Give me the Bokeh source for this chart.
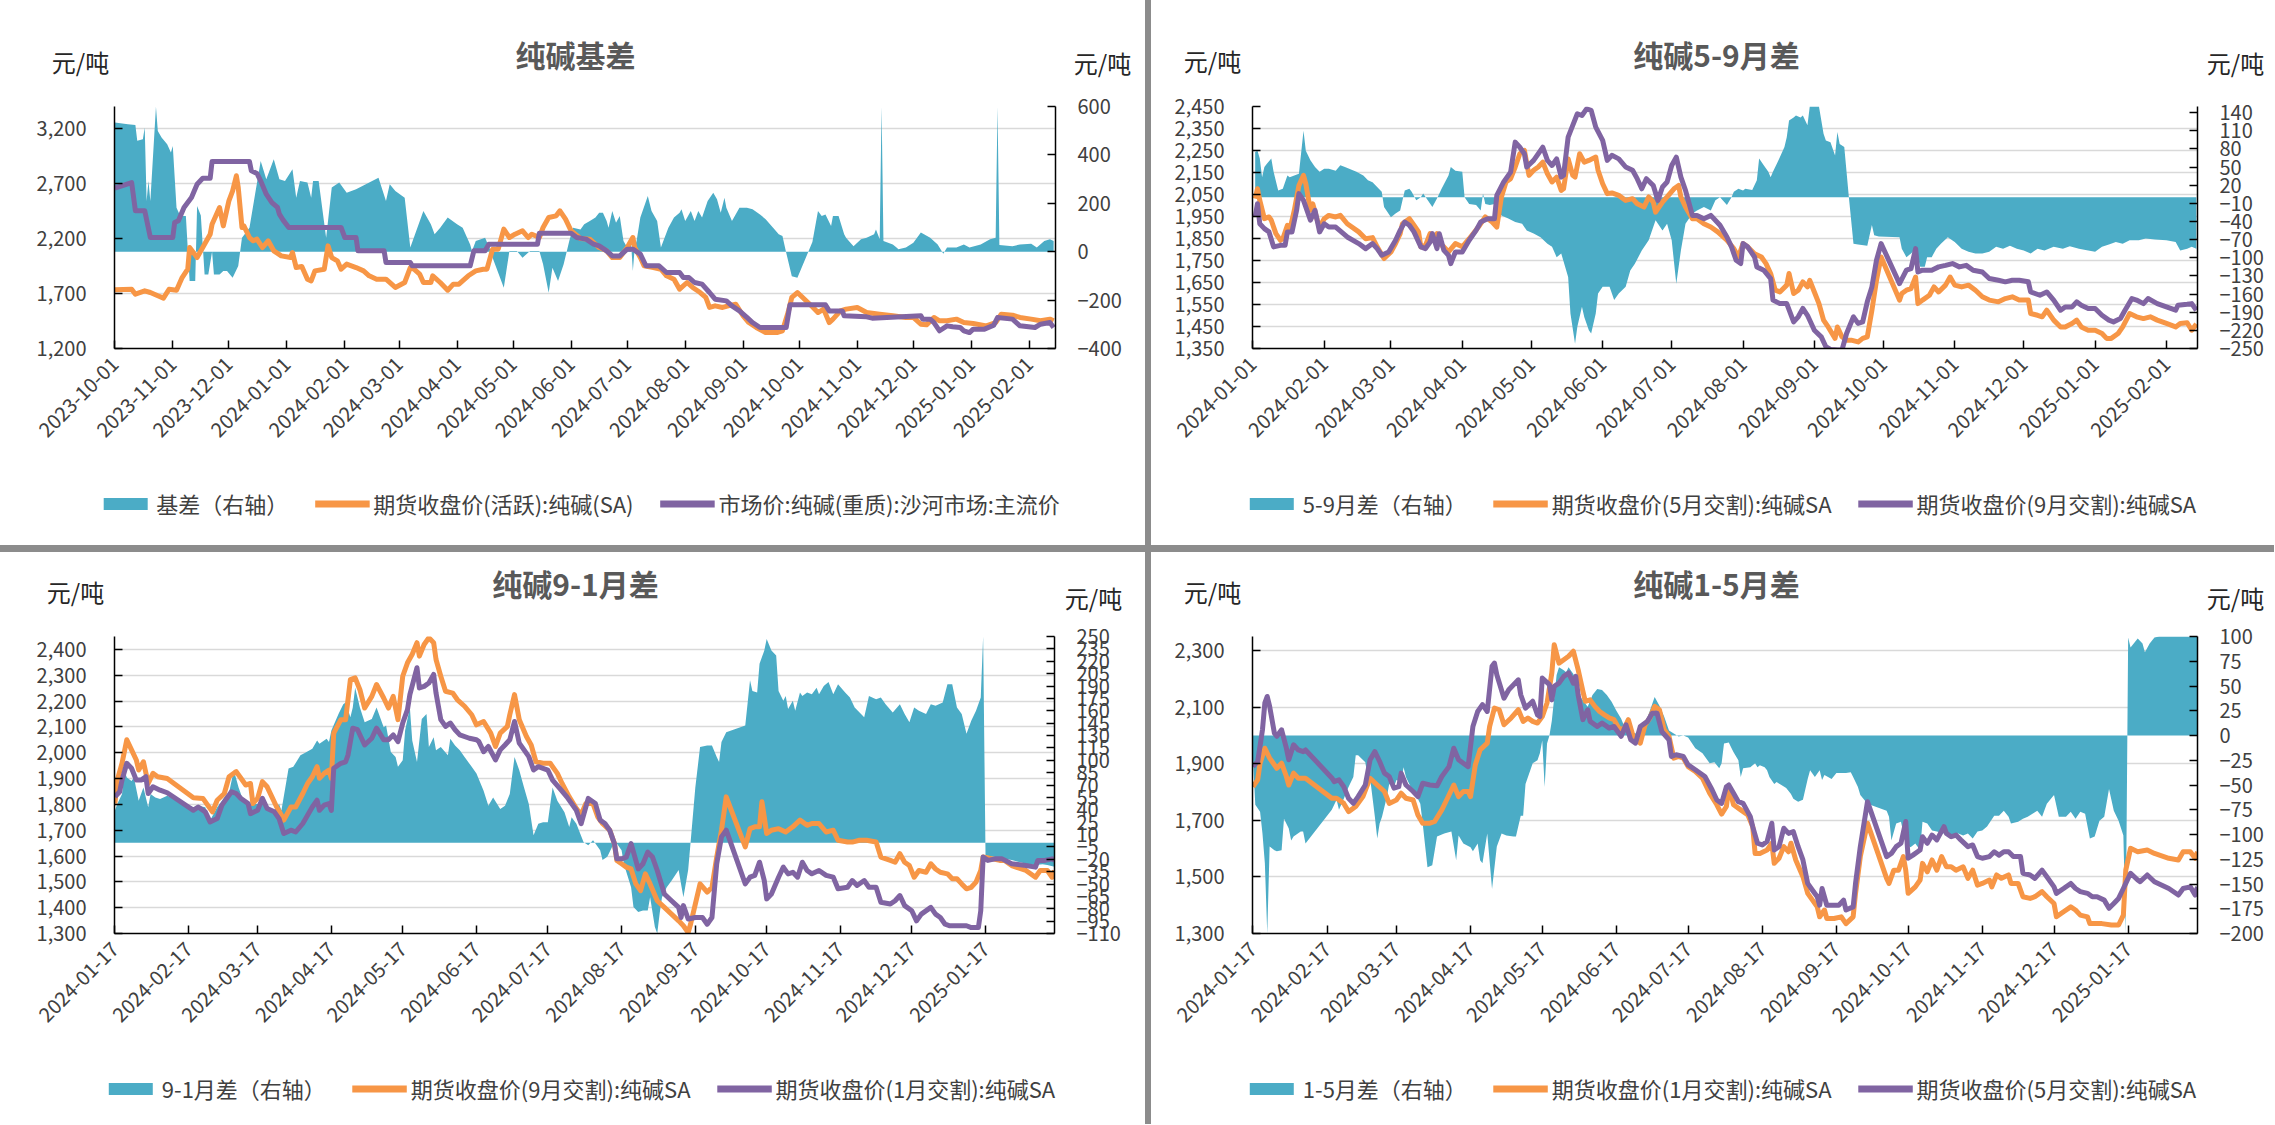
import math
import pandas as pd
from bokeh.plotting import figure
from bokeh.models import (Range1d, LinearAxis, FixedTicker, DatetimeTickFormatter,
                          NumeralTickFormatter, Label, Legend, LegendItem)
from bokeh.layouts import row, column
from bokeh.embed import file_html
from bokeh.resources import INLINE

FONT = "Noto Sans CJK SC"
TXT = "#404040"
TEAL, ORANGE, PURPLE = "#4BACC6", "#F79646", "#8064A2"

# ---------------- Panel 1: 纯碱基差 ----------------
TITLE1 = "纯碱基差"
NAMES1 = ["基差（右轴）", "期货收盘价(活跃):纯碱(SA)", "市场价:纯碱(重质):沙河市场:主流价"]
XT1 = ["2023-10-01", "2023-11-01", "2023-12-01", "2024-01-01", "2024-02-01", "2024-03-01",
       "2024-04-01", "2024-05-01", "2024-06-01", "2024-07-01", "2024-08-01", "2024-09-01",
       "2024-10-01", "2024-11-01", "2024-12-01", "2025-01-01", "2025-02-01"]
YL1 = [1200, 1700, 2200, 2700, 3200]
YR1 = [-400, -200, 0, 200, 400, 600]
BASIS1 = [
    ("2023-10-01", 534), ("2023-10-08", 527), ("2023-10-12", 524), ("2023-10-13", 458), ("2023-10-16", 465),
    ("2023-10-17", 513), ("2023-10-18", 210), ("2023-10-19", 292), ("2023-10-20", 210), ("2023-10-23", 599),
    ("2023-10-24", 499), ("2023-10-26", 472), ("2023-10-29", 444), ("2023-10-31", 410), ("2023-11-01", 437),
    ("2023-11-03", 182), ("2023-11-05", 148), ("2023-11-08", 148), ("2023-11-10", -121), ("2023-11-13", -121),
    ("2023-11-14", 189), ("2023-11-16", 150), ("2023-11-18", -94), ("2023-11-20", -94), ("2023-11-22", 0),
    ("2023-11-23", -94), ("2023-11-26", -94), ("2023-11-28", -80), ("2023-11-30", -80), ("2023-12-03", -108),
    ("2023-12-06", -59), ("2023-12-08", 58), ("2023-12-12", 99), ("2023-12-15", 237), ("2023-12-18", 375),
    ("2023-12-21", 299), ("2023-12-25", 382), ("2023-12-28", 299), ("2023-12-31", 292), ("2024-01-04", 341),
    ("2024-01-06", 223), ("2024-01-08", 292), ("2024-01-12", 286), ("2024-01-14", 223), ("2024-01-15", 292),
    ("2024-01-18", 292), ("2024-01-22", 58), ("2024-01-25", 265), ("2024-01-29", 286), ("2024-02-02", 244),
    ("2024-02-07", 258), ("2024-02-19", 306), ("2024-02-23", 210), ("2024-02-25", 279), ("2024-02-28", 251),
    ("2024-03-04", 223), ("2024-03-07", 17), ("2024-03-14", 168), ("2024-03-18", 113), ("2024-03-20", 72),
    ("2024-03-23", 99), ("2024-03-27", 141), ("2024-04-01", 113), ("2024-04-04", 99), ("2024-04-08", 30),
    ("2024-04-09", 3), ("2024-04-11", 44), ("2024-04-16", 58), ("2024-04-19", 3), ("2024-04-20", -25),
    ("2024-04-26", -149), ("2024-04-29", 3), ("2024-05-03", 3), ("2024-05-06", -25), ("2024-05-10", 3),
    ("2024-05-15", 3), ("2024-05-17", -52), ("2024-05-20", -170), ("2024-05-22", -66), ("2024-05-25", -121),
    ("2024-05-28", -52), ("2024-05-31", 44), ("2024-06-02", 99), ("2024-06-06", 92), ("2024-06-08", 113),
    ("2024-06-11", 127), ("2024-06-14", 141), ("2024-06-16", 161), ("2024-06-18", 161), ("2024-06-20", 127),
    ("2024-06-21", 99), ("2024-06-23", 168), ("2024-06-25", 120), ("2024-06-27", 148), ("2024-06-29", 44),
    ("2024-07-01", 17), ("2024-07-03", 44), ("2024-07-04", -80), ("2024-07-05", 17), ("2024-07-06", 44),
    ("2024-07-08", 141), ("2024-07-12", 230), ("2024-07-14", 168), ("2024-07-17", 127), ("2024-07-19", 17),
    ("2024-07-23", 99), ("2024-07-26", 141), ("2024-07-29", 161), ("2024-07-30", 175), ("2024-08-01", 127),
    ("2024-08-04", 168), ("2024-08-06", 127), ("2024-08-08", 168), ("2024-08-10", 141), ("2024-08-13", 210),
    ("2024-08-16", 244), ("2024-08-18", 217), ("2024-08-20", 161), ("2024-08-22", 223), ("2024-08-23", 182),
    ("2024-08-26", 127), ("2024-08-30", 182), ("2024-09-03", 182), ("2024-09-06", 175), ("2024-09-10", 154),
    ("2024-09-13", 134), ("2024-09-17", 99), ("2024-09-20", 72), ("2024-09-22", 65), ("2024-09-24", -4),
    ("2024-09-27", -101), ("2024-09-30", -108), ("2024-10-08", 40), ("2024-10-11", 168), ("2024-10-13", 148),
    ("2024-10-15", 154), ("2024-10-18", 106), ("2024-10-19", 148), ("2024-10-22", 148), ("2024-10-25", 72),
    ("2024-10-26", 58), ("2024-10-30", 23), ("2024-11-03", 51), ("2024-11-06", 58), ("2024-11-10", 72),
    ("2024-11-11", 92), ("2024-11-13", 51), ("2024-11-14", 599), ("2024-11-15", 44), ("2024-11-20", 30),
    ("2024-11-22", 17), ("2024-11-23", 10), ("2024-11-27", 17), ("2024-12-01", 37), ("2024-12-05", 79),
    ("2024-12-10", 58), ("2024-12-14", 30), ("2024-12-17", -8), ("2024-12-19", 17), ("2024-12-24", 17),
    ("2024-12-28", 30), ("2024-12-31", 17), ("2025-01-06", 30), ("2025-01-11", 51), ("2025-01-14", 58),
    ("2025-01-15", 599), ("2025-01-16", 28), ("2025-01-23", 23), ("2025-01-27", 30), ("2025-02-02", 33),
    ("2025-02-05", 17), ("2025-02-09", 44), ("2025-02-12", 51), ("2025-02-14", 44)]
FUT_SA = [
    ("2023-10-01", 1733), ("2023-10-10", 1739), ("2023-10-12", 1694), ("2023-10-17", 1724), ("2023-10-20", 1709),
    ("2023-10-24", 1679), ("2023-10-27", 1658), ("2023-10-30", 1739), ("2023-11-03", 1730), ("2023-11-06", 1845),
    ("2023-11-09", 1921), ("2023-11-10", 2118), ("2023-11-14", 2027), ("2023-11-17", 2118), ("2023-11-21", 2239),
    ("2023-11-22", 2330), ("2023-11-26", 2482), ("2023-11-28", 2315), ("2023-12-01", 2542), ("2023-12-03", 2633),
    ("2023-12-05", 2770), ("2023-12-06", 2664), ("2023-12-08", 2300), ("2023-12-09", 2315), ("2023-12-12", 2209),
    ("2023-12-14", 2179), ("2023-12-16", 2194), ("2023-12-19", 2118), ("2023-12-22", 2179), ("2023-12-25", 2088),
    ("2023-12-29", 2042), ("2024-01-03", 2027), ("2024-01-04", 2073), ("2024-01-06", 1936), ("2024-01-09", 1945),
    ("2024-01-12", 1830), ("2024-01-14", 1815), ("2024-01-16", 1906), ("2024-01-21", 1921), ("2024-01-23", 2133),
    ("2024-01-25", 2027), ("2024-01-28", 1997), ("2024-01-30", 1921), ("2024-02-02", 1967), ("2024-02-07", 1936),
    ("2024-02-11", 1906), ("2024-02-14", 1861), ("2024-02-18", 1830), ("2024-02-23", 1830), ("2024-02-28", 1755),
    ("2024-03-04", 1800), ("2024-03-07", 1936), ("2024-03-09", 1921), ("2024-03-12", 1876), ("2024-03-14", 1800),
    ("2024-03-18", 1800), ("2024-03-19", 1861), ("2024-03-23", 1800), ("2024-03-27", 1730), ("2024-03-30", 1785),
    ("2024-04-02", 1785), ("2024-04-07", 1861), ("2024-04-11", 1906), ("2024-04-15", 1921), ("2024-04-17", 1921),
    ("2024-04-20", 2103), ("2024-04-23", 2103), ("2024-04-26", 2285), ("2024-04-29", 2209), ("2024-05-02", 2239),
    ("2024-05-06", 2270), ("2024-05-09", 2209), ("2024-05-11", 2239), ("2024-05-15", 2209), ("2024-05-17", 2300),
    ("2024-05-20", 2391), ("2024-05-24", 2406), ("2024-05-26", 2452), ("2024-05-29", 2376), ("2024-06-01", 2270),
    ("2024-06-06", 2200), ("2024-06-11", 2194), ("2024-06-16", 2118), ("2024-06-20", 2088), ("2024-06-23", 2027),
    ("2024-06-27", 2027), ("2024-07-01", 2118), ("2024-07-04", 2209), ("2024-07-05", 2118), ("2024-07-08", 2027),
    ("2024-07-10", 1952), ("2024-07-15", 1936), ("2024-07-19", 1921), ("2024-07-22", 1861), ("2024-07-26", 1830),
    ("2024-07-29", 1739), ("2024-08-02", 1800), ("2024-08-05", 1755), ("2024-08-09", 1709), ("2024-08-12", 1664),
    ("2024-08-14", 1573), ("2024-08-17", 1588), ("2024-08-21", 1573), ("2024-08-24", 1588), ("2024-08-28", 1603),
    ("2024-09-01", 1497), ("2024-09-04", 1436), ("2024-09-08", 1391), ("2024-09-13", 1345), ("2024-09-19", 1345),
    ("2024-09-22", 1361), ("2024-09-25", 1527), ("2024-09-27", 1664), ("2024-09-30", 1709), ("2024-10-08", 1580),
    ("2024-10-11", 1527), ("2024-10-14", 1558), ("2024-10-17", 1436), ("2024-10-19", 1467), ("2024-10-23", 1542),
    ("2024-10-26", 1558), ("2024-11-01", 1573), ("2024-11-06", 1527), ("2024-11-13", 1512), ("2024-11-20", 1497),
    ("2024-11-27", 1482), ("2024-12-01", 1482), ("2024-12-05", 1421), ("2024-12-08", 1415), ("2024-12-12", 1482),
    ("2024-12-15", 1452), ("2024-12-19", 1452), ("2024-12-24", 1467), ("2024-12-28", 1436), ("2025-01-02", 1427),
    ("2025-01-09", 1406), ("2025-01-14", 1436), ("2025-01-17", 1512), ("2025-01-23", 1503), ("2025-01-27", 1482),
    ("2025-02-02", 1467), ("2025-02-07", 1452), ("2025-02-12", 1467), ("2025-02-14", 1452)]
MARKET = [
    ("2023-10-01", 2658), ("2023-10-10", 2709), ("2023-10-12", 2452), ("2023-10-17", 2452), ("2023-10-20", 2209),
    ("2023-11-01", 2209), ("2023-11-02", 2345), ("2023-11-04", 2361), ("2023-11-07", 2482), ("2023-11-11", 2573),
    ("2023-11-14", 2694), ("2023-11-17", 2748), ("2023-11-21", 2748), ("2023-11-22", 2900), ("2023-12-12", 2900),
    ("2023-12-13", 2815), ("2023-12-16", 2791), ("2023-12-18", 2724), ("2023-12-21", 2603), ("2023-12-24", 2527),
    ("2023-12-27", 2482), ("2023-12-28", 2421), ("2023-12-30", 2367), ("2024-01-02", 2300), ("2024-01-30", 2300),
    ("2024-02-01", 2209), ("2024-02-07", 2209), ("2024-02-08", 2088), ("2024-02-22", 2088), ("2024-02-23", 1982),
    ("2024-03-07", 1982), ("2024-03-08", 1952), ("2024-04-08", 1952), ("2024-04-10", 2088), ("2024-04-16", 2088),
    ("2024-04-18", 2148), ("2024-05-14", 2148), ("2024-05-15", 2248), ("2024-06-01", 2248), ("2024-06-04", 2209),
    ("2024-06-09", 2194), ("2024-06-13", 2148), ("2024-06-16", 2133), ("2024-06-20", 2088), ("2024-06-23", 2042),
    ("2024-06-27", 2042), ("2024-07-01", 2103), ("2024-07-04", 2103), ("2024-07-08", 2058), ("2024-07-11", 1952),
    ("2024-07-18", 1952), ("2024-07-22", 1891), ("2024-07-29", 1891), ("2024-07-31", 1845), ("2024-08-03", 1845),
    ("2024-08-06", 1800), ("2024-08-10", 1785), ("2024-08-14", 1709), ("2024-08-17", 1648), ("2024-08-23", 1633),
    ("2024-08-26", 1588), ("2024-08-30", 1542), ("2024-09-03", 1482), ("2024-09-06", 1436), ("2024-09-10", 1391),
    ("2024-09-24", 1391), ("2024-09-26", 1597), ("2024-10-15", 1597), ("2024-10-17", 1542), ("2024-10-24", 1542),
    ("2024-10-25", 1497), ("2024-11-06", 1488), ("2024-11-09", 1476), ("2024-12-05", 1497), ("2024-12-06", 1467),
    ("2024-12-10", 1467), ("2024-12-12", 1436), ("2024-12-15", 1361), ("2024-12-19", 1406), ("2024-12-22", 1397),
    ("2024-12-26", 1391), ("2024-12-28", 1361), ("2024-12-31", 1345), ("2025-01-02", 1376), ("2025-01-08", 1376),
    ("2025-01-13", 1412), ("2025-01-15", 1482), ("2025-01-23", 1467), ("2025-01-27", 1406), ("2025-02-04", 1391),
    ("2025-02-07", 1421), ("2025-02-12", 1436), ("2025-02-14", 1391)]

# ---------------- Panel 2: 纯碱5-9月差 ----------------
TITLE2 = "纯碱5-9月差"
NAMES2 = ["5-9月差（右轴）", "期货收盘价(5月交割):纯碱SA", "期货收盘价(9月交割):纯碱SA"]
XT2 = ["2024-01-01", "2024-02-01", "2024-03-01", "2024-04-01", "2024-05-01", "2024-06-01", "2024-07-01",
       "2024-08-01", "2024-09-01", "2024-10-01", "2024-11-01", "2024-12-01", "2025-01-01", "2025-02-01"]
YL2 = [1350, 1450, 1550, 1650, 1750, 1850, 1950, 2050, 2150, 2250, 2350, 2450]
YR2 = [-250, -220, -190, -160, -130, -100, -70, -40, -10, 20, 50, 80, 110, 140]
SPR59 = [
    ("2024-01-02", 75), ("2024-01-03", 77), ("2024-01-04", 64), ("2024-01-05", 33), ("2024-01-06", 50),
    ("2024-01-07", 55), ("2024-01-09", 64), ("2024-01-10", 42), ("2024-01-12", 11), ("2024-01-14", 14),
    ("2024-01-16", 36), ("2024-01-17", 33), ("2024-01-19", 36), ("2024-01-21", 39), ("2024-01-23", 110),
    ("2024-01-24", 77), ("2024-01-26", 61), ("2024-01-28", 50), ("2024-01-30", 42), ("2024-02-01", 47),
    ("2024-02-03", 47), ("2024-02-06", 44), ("2024-02-08", 53), ("2024-02-10", 50), ("2024-02-15", 42),
    ("2024-02-18", 36), ("2024-02-20", 28), ("2024-02-22", 25), ("2024-02-24", 17), ("2024-02-26", 9),
    ("2024-02-27", -16), ("2024-03-01", -33), ("2024-03-03", -27), ("2024-03-05", -22), ("2024-03-07", 11),
    ("2024-03-09", 14), ("2024-03-10", 9), ("2024-03-12", -5), ("2024-03-14", 0), ("2024-03-15", 6),
    ("2024-03-17", -5), ("2024-03-19", -16), ("2024-03-21", -2), ("2024-03-23", 14), ("2024-03-26", 36),
    ("2024-03-27", 50), ("2024-03-29", 44), ("2024-04-01", 42), ("2024-04-02", 0), ("2024-04-04", -11),
    ("2024-04-07", -13), ("2024-04-09", -22), ("2024-04-10", 6), ("2024-04-11", -11), ("2024-04-13", -13),
    ("2024-04-15", -11), ("2024-04-18", -30), ("2024-04-21", -35), ("2024-04-24", -41), ("2024-04-27", -44),
    ("2024-04-29", -55), ("2024-05-02", -60), ("2024-05-05", -66), ("2024-05-08", -77), ("2024-05-10", -82),
    ("2024-05-12", -99), ("2024-05-14", -93), ("2024-05-17", -132), ("2024-05-18", -192), ("2024-05-20", -242),
    ("2024-05-21", -214), ("2024-05-23", -181), ("2024-05-24", -198), ("2024-05-26", -220), ("2024-05-27", -225),
    ("2024-05-29", -192), ("2024-05-30", -159), ("2024-06-01", -148), ("2024-06-04", -148), ("2024-06-06", -170),
    ("2024-06-08", -159), ("2024-06-11", -148), ("2024-06-13", -121), ("2024-06-15", -110), ("2024-06-18", -88),
    ("2024-06-21", -71), ("2024-06-24", -38), ("2024-06-27", -55), ("2024-06-29", -44), ("2024-07-01", -71),
    ("2024-07-03", -143), ("2024-07-05", -88), ("2024-07-07", -44), ("2024-07-10", -27), ("2024-07-12", -22),
    ("2024-07-15", -16), ("2024-07-18", -22), ("2024-07-20", -5), ("2024-07-22", 0), ("2024-07-25", -13),
    ("2024-07-27", 0), ("2024-07-28", 9), ("2024-07-30", 14), ("2024-08-01", 11), ("2024-08-02", 14),
    ("2024-08-05", 12), ("2024-08-07", 28), ("2024-08-08", 64), ("2024-08-10", 53), ("2024-08-12", 42),
    ("2024-08-13", 33), ("2024-08-14", 42), ("2024-08-16", 58), ("2024-08-17", 66), ("2024-08-19", 83),
    ("2024-08-20", 99), ("2024-08-21", 127), ("2024-08-23", 132), ("2024-08-24", 135), ("2024-08-26", 132),
    ("2024-08-27", 135), ("2024-08-29", 119), ("2024-08-30", 150), ("2024-09-03", 150), ("2024-09-05", 105),
    ("2024-09-06", 94), ("2024-09-08", 91), ("2024-09-10", 69), ("2024-09-11", 108), ("2024-09-12", 88),
    ("2024-09-14", 83), ("2024-09-16", 0), ("2024-09-18", -77), ("2024-09-20", -78), ("2024-09-24", -80),
    ("2024-09-26", -46), ("2024-09-27", -63), ("2024-09-29", -65), ("2024-10-08", -66), ("2024-10-09", -85),
    ("2024-10-11", -99), ("2024-10-13", -93), ("2024-10-15", -85), ("2024-10-17", -115), ("2024-10-19", -115),
    ("2024-10-20", -99), ("2024-10-22", -99), ("2024-10-24", -85), ("2024-10-26", -77), ("2024-10-29", -66),
    ("2024-11-01", -74), ("2024-11-04", -85), ("2024-11-07", -90), ("2024-11-10", -93), ("2024-11-13", -93),
    ("2024-11-16", -90), ("2024-11-19", -82), ("2024-11-22", -85), ("2024-11-25", -80), ("2024-11-28", -85),
    ("2024-12-01", -88), ("2024-12-04", -93), ("2024-12-07", -85), ("2024-12-10", -88), ("2024-12-14", -82),
    ("2024-12-18", -85), ("2024-12-21", -81), ("2024-12-25", -85), ("2024-12-29", -88), ("2025-01-01", -90),
    ("2025-01-04", -82), ("2025-01-07", -78), ("2025-01-10", -74), ("2025-01-13", -77), ("2025-01-16", -71),
    ("2025-01-20", -71), ("2025-01-23", -68), ("2025-01-27", -70), ("2025-02-01", -71), ("2025-02-05", -74),
    ("2025-02-07", -88), ("2025-02-10", -85), ("2025-02-12", -82), ("2025-02-14", -85)]
P2_MAY = [
    ("2024-01-02", 2031), ("2024-01-03", 2076), ("2024-01-04", 2023), ("2024-01-06", 1940), ("2024-01-08", 1948),
    ("2024-01-09", 1933), ("2024-01-11", 1872), ("2024-01-13", 1842), ("2024-01-14", 1849), ("2024-01-16", 1910),
    ("2024-01-17", 1887), ("2024-01-19", 1978), ("2024-01-21", 2091), ("2024-01-23", 2137), ("2024-01-24", 2099),
    ("2024-01-26", 1978), ("2024-01-27", 2008), ("2024-01-29", 1933), ("2024-01-30", 1902), ("2024-02-01", 1940),
    ("2024-02-03", 1955), ("2024-02-06", 1948), ("2024-02-08", 1955), ("2024-02-11", 1917), ("2024-02-16", 1880),
    ("2024-02-19", 1849), ("2024-02-22", 1854), ("2024-02-24", 1812), ("2024-02-27", 1759), ("2024-03-01", 1789),
    ("2024-03-03", 1827), ("2024-03-05", 1872), ("2024-03-06", 1917), ("2024-03-09", 1940), ("2024-03-11", 1910),
    ("2024-03-13", 1880), ("2024-03-14", 1812), ("2024-03-16", 1819), ("2024-03-18", 1872), ("2024-03-19", 1842),
    ("2024-03-21", 1872), ("2024-03-22", 1827), ("2024-03-24", 1812), ("2024-03-26", 1789), ("2024-03-29", 1827),
    ("2024-04-01", 1812), ("2024-04-04", 1849), ("2024-04-08", 1902), ("2024-04-11", 1948), ("2024-04-14", 1925),
    ("2024-04-16", 1902), ("2024-04-18", 2039), ("2024-04-20", 2107), ("2024-04-22", 2122), ("2024-04-24", 2175),
    ("2024-04-26", 2235), ("2024-04-28", 2250), ("2024-04-30", 2137), ("2024-05-02", 2160), ("2024-05-04", 2175),
    ("2024-05-06", 2197), ("2024-05-08", 2144), ("2024-05-10", 2107), ("2024-05-12", 2129), ("2024-05-14", 2069),
    ("2024-05-15", 2076), ("2024-05-17", 2212), ("2024-05-19", 2137), ("2024-05-20", 2129), ("2024-05-22", 2235),
    ("2024-05-24", 2197), ("2024-05-26", 2205), ("2024-05-29", 2220), ("2024-05-30", 2160), ("2024-06-01", 2099),
    ("2024-06-03", 2054), ("2024-06-05", 2057), ("2024-06-08", 2046), ("2024-06-11", 2023), ("2024-06-14", 2031),
    ("2024-06-16", 2008), ("2024-06-19", 1993), ("2024-06-21", 2039), ("2024-06-23", 2016), ("2024-06-24", 1970),
    ("2024-06-27", 2016), ("2024-06-29", 2039), ("2024-07-02", 2076), ("2024-07-04", 2091), ("2024-07-05", 2039),
    ("2024-07-07", 1993), ("2024-07-10", 1940), ("2024-07-12", 1940), ("2024-07-15", 1917), ("2024-07-18", 1902),
    ("2024-07-21", 1880), ("2024-07-25", 1842), ("2024-07-28", 1804), ("2024-07-30", 1766), ("2024-08-01", 1827),
    ("2024-08-03", 1812), ("2024-08-06", 1781), ("2024-08-09", 1766), ("2024-08-11", 1736), ("2024-08-13", 1691),
    ("2024-08-15", 1615), ("2024-08-17", 1607), ("2024-08-20", 1638), ("2024-08-21", 1691), ("2024-08-23", 1600),
    ("2024-08-25", 1615), ("2024-08-27", 1653), ("2024-08-29", 1630), ("2024-08-30", 1660), ("2024-09-01", 1607),
    ("2024-09-03", 1554), ("2024-09-05", 1479), ("2024-09-07", 1448), ("2024-09-10", 1396), ("2024-09-11", 1448),
    ("2024-09-13", 1403), ("2024-09-15", 1388), ("2024-09-17", 1388), ("2024-09-20", 1380), ("2024-09-22", 1396),
    ("2024-09-24", 1403), ("2024-09-26", 1524), ("2024-09-28", 1660), ("2024-09-30", 1766), ("2024-10-08", 1570),
    ("2024-10-09", 1600), ("2024-10-11", 1615), ("2024-10-13", 1622), ("2024-10-15", 1675), ("2024-10-16", 1554),
    ("2024-10-18", 1570), ("2024-10-21", 1592), ("2024-10-23", 1630), ("2024-10-25", 1607), ("2024-10-28", 1638),
    ("2024-10-30", 1675), ("2024-11-01", 1638), ("2024-11-04", 1630), ("2024-11-07", 1638), ("2024-11-10", 1615),
    ("2024-11-13", 1585), ("2024-11-16", 1570), ("2024-11-20", 1562), ("2024-11-23", 1577), ("2024-11-26", 1585),
    ("2024-11-29", 1570), ("2024-12-03", 1570), ("2024-12-04", 1509), ("2024-12-07", 1501), ("2024-12-09", 1494),
    ("2024-12-11", 1524), ("2024-12-14", 1479), ("2024-12-17", 1448), ("2024-12-19", 1448), ("2024-12-22", 1464),
    ("2024-12-24", 1479), ("2024-12-26", 1448), ("2024-12-29", 1433), ("2025-01-01", 1433), ("2025-01-04", 1418),
    ("2025-01-06", 1396), ("2025-01-08", 1396), ("2025-01-11", 1418), ("2025-01-13", 1448), ("2025-01-16", 1509),
    ("2025-01-19", 1494), ("2025-01-22", 1486), ("2025-01-25", 1494), ("2025-01-28", 1479), ("2025-02-01", 1464),
    ("2025-02-05", 1448), ("2025-02-07", 1464), ("2025-02-10", 1467), ("2025-02-12", 1433), ("2025-02-14", 1461)]
P2_SEP = [
    ("2024-01-02", 1948), ("2024-01-03", 2008), ("2024-01-04", 1917), ("2024-01-06", 1895), ("2024-01-08", 1880),
    ("2024-01-10", 1812), ("2024-01-13", 1819), ("2024-01-15", 1819), ("2024-01-16", 1880), ("2024-01-18", 1880),
    ("2024-01-20", 1978), ("2024-01-21", 2054), ("2024-01-23", 2023), ("2024-01-26", 1933), ("2024-01-28", 1978),
    ("2024-01-30", 1880), ("2024-02-01", 1917), ("2024-02-03", 1902), ("2024-02-06", 1902), ("2024-02-11", 1857),
    ("2024-02-16", 1827), ("2024-02-19", 1804), ("2024-02-22", 1827), ("2024-02-24", 1804), ("2024-02-26", 1774),
    ("2024-02-29", 1789), ("2024-03-03", 1842), ("2024-03-05", 1887), ("2024-03-07", 1925), ("2024-03-09", 1910),
    ("2024-03-11", 1880), ("2024-03-14", 1812), ("2024-03-16", 1804), ("2024-03-18", 1834), ("2024-03-19", 1872),
    ("2024-03-21", 1804), ("2024-03-22", 1872), ("2024-03-24", 1796), ("2024-03-26", 1774), ("2024-03-27", 1736),
    ("2024-03-29", 1789), ("2024-04-01", 1789), ("2024-04-04", 1842), ("2024-04-07", 1887), ("2024-04-09", 1925),
    ("2024-04-12", 1940), ("2024-04-15", 1940), ("2024-04-16", 2046), ("2024-04-19", 2107), ("2024-04-22", 2152),
    ("2024-04-24", 2288), ("2024-04-26", 2265), ("2024-04-28", 2235), ("2024-04-29", 2175), ("2024-05-02", 2205),
    ("2024-05-06", 2265), ("2024-05-08", 2205), ("2024-05-10", 2182), ("2024-05-12", 2212), ("2024-05-14", 2129),
    ("2024-05-15", 2137), ("2024-05-17", 2311), ("2024-05-19", 2364), ("2024-05-21", 2417), ("2024-05-23", 2409),
    ("2024-05-25", 2439), ("2024-05-27", 2432), ("2024-05-29", 2356), ("2024-06-01", 2296), ("2024-06-03", 2205),
    ("2024-06-05", 2228), ("2024-06-08", 2212), ("2024-06-11", 2175), ("2024-06-14", 2160), ("2024-06-16", 2122),
    ("2024-06-18", 2076), ("2024-06-20", 2122), ("2024-06-23", 2091), ("2024-06-25", 2023), ("2024-06-27", 2084),
    ("2024-06-29", 2107), ("2024-07-01", 2182), ("2024-07-03", 2220), ("2024-07-05", 2129), ("2024-07-07", 2069),
    ("2024-07-10", 1955), ("2024-07-12", 1955), ("2024-07-15", 1940), ("2024-07-18", 1955), ("2024-07-22", 1910),
    ("2024-07-25", 1857), ("2024-07-27", 1812), ("2024-07-29", 1751), ("2024-07-31", 1736), ("2024-08-01", 1827),
    ("2024-08-03", 1812), ("2024-08-06", 1766), ("2024-08-07", 1721), ("2024-08-10", 1706), ("2024-08-13", 1668),
    ("2024-08-14", 1570), ("2024-08-17", 1554), ("2024-08-20", 1554), ("2024-08-23", 1471), ("2024-08-25", 1494),
    ("2024-08-27", 1532), ("2024-08-29", 1501), ("2024-09-01", 1433), ("2024-09-04", 1403), ("2024-09-06", 1358),
    ("2024-09-08", 1346), ("2024-09-11", 1343), ("2024-09-13", 1343), ("2024-09-15", 1418), ("2024-09-18", 1494),
    ("2024-09-20", 1464), ("2024-09-22", 1471), ("2024-09-24", 1562), ("2024-09-26", 1630), ("2024-09-28", 1751),
    ("2024-09-30", 1827), ("2024-10-08", 1645), ("2024-10-11", 1706), ("2024-10-13", 1713), ("2024-10-15", 1804),
    ("2024-10-16", 1698), ("2024-10-18", 1706), ("2024-10-22", 1706), ("2024-10-25", 1721), ("2024-10-28", 1728),
    ("2024-10-31", 1736), ("2024-11-03", 1721), ("2024-11-06", 1728), ("2024-11-09", 1706), ("2024-11-13", 1698),
    ("2024-11-16", 1668), ("2024-11-20", 1660), ("2024-11-23", 1653), ("2024-11-26", 1660), ("2024-11-29", 1660),
    ("2024-12-03", 1653), ("2024-12-04", 1607), ("2024-12-08", 1592), ("2024-12-11", 1607), ("2024-12-14", 1570),
    ("2024-12-17", 1524), ("2024-12-19", 1539), ("2024-12-22", 1539), ("2024-12-24", 1562), ("2024-12-26", 1547),
    ("2024-12-29", 1532), ("2025-01-01", 1532), ("2025-01-04", 1501), ("2025-01-07", 1479), ("2025-01-09", 1471),
    ("2025-01-12", 1486), ("2025-01-14", 1524), ("2025-01-17", 1577), ("2025-01-19", 1570), ("2025-01-22", 1554),
    ("2025-01-24", 1577), ("2025-01-28", 1554), ("2025-02-01", 1539), ("2025-02-05", 1524), ("2025-02-06", 1547),
    ("2025-02-10", 1551), ("2025-02-12", 1554), ("2025-02-14", 1524)]

# ---------------- Panel 3: 纯碱9-1月差 ----------------
TITLE3 = "纯碱9-1月差"
NAMES3 = ["9-1月差（右轴）", "期货收盘价(9月交割):纯碱SA", "期货收盘价(1月交割):纯碱SA"]
XT34 = ["2024-01-17", "2024-02-17", "2024-03-17", "2024-04-17", "2024-05-17", "2024-06-17", "2024-07-17",
        "2024-08-17", "2024-09-17", "2024-10-17", "2024-11-17", "2024-12-17", "2025-01-17"]
YL3 = [1300, 1400, 1500, 1600, 1700, 1800, 1900, 2000, 2100, 2200, 2300, 2400]
YR3 = [-110, -95, -80, -65, -50, -35, -20, -5, 10, 25, 40, 55, 70, 85, 100, 115, 130, 145, 160, 175,
       190, 205, 220, 235, 250]
SPR91 = [
    ("2024-01-17", 39), ("2024-01-18", 47), ("2024-01-20", 59), ("2024-01-21", 88), ("2024-01-22", 79),
    ("2024-01-24", 75), ("2024-01-25", 79), ("2024-01-27", 51), ("2024-01-28", 59), ("2024-01-29", 67),
    ("2024-01-31", 43), ("2024-02-01", 59), ("2024-02-03", 55), ("2024-02-05", 53), ("2024-02-08", 57),
    ("2024-02-19", 43), ("2024-02-21", 45), ("2024-02-24", 43), ("2024-02-26", 27), ("2024-02-29", 43),
    ("2024-03-03", 55), ("2024-03-05", 61), ("2024-03-07", 88), ("2024-03-09", 67), ("2024-03-11", 51),
    ("2024-03-14", 47), ("2024-03-17", 47), ("2024-03-19", 55), ("2024-03-21", 39), ("2024-03-24", 39),
    ("2024-03-26", 47), ("2024-03-27", 39), ("2024-03-30", 90), ("2024-04-01", 92), ("2024-04-04", 106),
    ("2024-04-06", 109), ("2024-04-09", 114), ("2024-04-11", 124), ("2024-04-12", 120), ("2024-04-15", 126),
    ("2024-04-16", 122), ("2024-04-17", 136), ("2024-04-20", 156), ("2024-04-22", 168), ("2024-04-23", 170),
    ("2024-04-25", 152), ("2024-04-26", 164), ("2024-04-27", 188), ("2024-04-29", 164), ("2024-05-01", 146),
    ("2024-05-04", 150), ("2024-05-06", 164), ("2024-05-09", 140), ("2024-05-10", 142), ("2024-05-12", 110),
    ("2024-05-14", 104), ("2024-05-15", 92), ("2024-05-17", 100), ("2024-05-18", 136), ("2024-05-20", 164),
    ("2024-05-21", 124), ("2024-05-23", 98), ("2024-05-25", 150), ("2024-05-27", 156), ("2024-05-28", 116),
    ("2024-05-30", 128), ("2024-05-31", 112), ("2024-06-02", 116), ("2024-06-05", 106), ("2024-06-06", 126),
    ("2024-06-08", 118), ("2024-06-10", 112), ("2024-06-12", 104), ("2024-06-15", 92), ("2024-06-17", 84),
    ("2024-06-20", 63), ("2024-06-22", 45), ("2024-06-24", 55), ("2024-06-27", 41), ("2024-06-29", 45),
    ("2024-07-01", 59), ("2024-07-03", 104), ("2024-07-05", 88), ("2024-07-07", 67), ("2024-07-09", 47),
    ("2024-07-11", 9), ("2024-07-13", 23), ("2024-07-15", 25), ("2024-07-17", 25), ("2024-07-19", 67),
    ("2024-07-21", 51), ("2024-07-24", 37), ("2024-07-26", 19), ("2024-07-27", 31), ("2024-07-29", 23),
    ("2024-08-01", 1), ("2024-08-03", -3), ("2024-08-05", 3), ("2024-08-06", -1), ("2024-08-08", -9),
    ("2024-08-09", -21), ("2024-08-11", -17), ("2024-08-13", -5), ("2024-08-15", -1), ("2024-08-17", -9),
    ("2024-08-18", -26), ("2024-08-21", -54), ("2024-08-22", -78), ("2024-08-24", -84), ("2024-08-26", -82),
    ("2024-08-28", -82), ("2024-08-29", -66), ("2024-08-31", -102), ("2024-09-01", -110), ("2024-09-02", -86),
    ("2024-09-03", -66), ("2024-09-05", -54), ("2024-09-07", -46), ("2024-09-10", -33), ("2024-09-11", -50),
    ("2024-09-12", -66), ("2024-09-14", -33), ("2024-09-15", 0), ("2024-09-17", 67), ("2024-09-19", 116),
    ("2024-09-22", 118), ("2024-09-24", 118), ("2024-09-26", 104), ("2024-09-27", 98), ("2024-09-28", 122),
    ("2024-09-30", 134), ("2024-10-08", 142), ("2024-10-10", 197), ("2024-10-11", 184), ("2024-10-13", 182),
    ("2024-10-14", 217), ("2024-10-16", 233), ("2024-10-17", 247), ("2024-10-19", 233), ("2024-10-21", 227),
    ("2024-10-22", 184), ("2024-10-24", 172), ("2024-10-25", 178), ("2024-10-26", 162), ("2024-10-28", 172),
    ("2024-10-29", 160), ("2024-10-31", 182), ("2024-11-01", 178), ("2024-11-03", 182), ("2024-11-05", 180),
    ("2024-11-07", 188), ("2024-11-08", 180), ("2024-11-10", 190), ("2024-11-12", 195), ("2024-11-14", 180),
    ("2024-11-16", 192), ("2024-11-19", 182), ("2024-11-21", 176), ("2024-11-23", 164), ("2024-11-27", 152),
    ("2024-11-29", 178), ("2024-12-02", 174), ("2024-12-04", 176), ("2024-12-06", 168), ("2024-12-09", 158),
    ("2024-12-12", 168), ("2024-12-14", 156), ("2024-12-16", 146), ("2024-12-18", 164), ("2024-12-20", 160),
    ("2024-12-23", 156), ("2024-12-25", 168), ("2024-12-27", 166), ("2024-12-30", 170), ("2025-01-01", 192),
    ("2025-01-03", 192), ("2025-01-05", 164), ("2025-01-07", 156), ("2025-01-09", 132), ("2025-01-11", 148),
    ("2025-01-13", 160), ("2025-01-15", 176), ("2025-01-16", 250), ("2025-01-17", -15), ("2025-01-20", -17),
    ("2025-01-28", -21), ("2025-02-04", -26), ("2025-02-07", -27), ("2025-02-10", -26), ("2025-02-12", -27),
    ("2025-02-15", -29)]
P3_SEP = [
    ("2024-01-17", 1803), ("2024-01-18", 1894), ("2024-01-20", 1959), ("2024-01-22", 2050), ("2024-01-24", 2011),
    ("2024-01-26", 1972), ("2024-01-27", 1933), ("2024-01-29", 1965), ("2024-01-31", 1881), ("2024-02-02", 1920),
    ("2024-02-04", 1907), ("2024-02-08", 1900), ("2024-02-19", 1826), ("2024-02-23", 1823), ("2024-02-25", 1797),
    ("2024-02-27", 1771), ("2024-02-29", 1816), ("2024-03-03", 1842), ("2024-03-05", 1907), ("2024-03-08", 1927),
    ("2024-03-10", 1901), ("2024-03-12", 1875), ("2024-03-14", 1881), ("2024-03-15", 1803), ("2024-03-17", 1823),
    ("2024-03-19", 1888), ("2024-03-21", 1868), ("2024-03-23", 1829), ("2024-03-25", 1790), ("2024-03-27", 1758),
    ("2024-03-28", 1739), ("2024-03-31", 1790), ("2024-04-02", 1790), ("2024-04-05", 1842), ("2024-04-07", 1881),
    ("2024-04-09", 1907), ("2024-04-11", 1946), ("2024-04-12", 1901), ("2024-04-14", 1920), ("2024-04-16", 1933),
    ("2024-04-17", 1901), ("2024-04-18", 2076), ("2024-04-21", 2128), ("2024-04-23", 2128), ("2024-04-25", 2283),
    ("2024-04-27", 2290), ("2024-04-29", 2244), ("2024-05-01", 2173), ("2024-05-04", 2218), ("2024-05-06", 2264),
    ("2024-05-09", 2212), ("2024-05-11", 2173), ("2024-05-13", 2218), ("2024-05-15", 2128), ("2024-05-17", 2296),
    ("2024-05-19", 2348), ("2024-05-21", 2381), ("2024-05-23", 2426), ("2024-05-24", 2374), ("2024-05-26", 2419),
    ("2024-05-28", 2445), ("2024-05-30", 2426), ("2024-05-31", 2361), ("2024-06-02", 2296), ("2024-06-04", 2238),
    ("2024-06-07", 2231), ("2024-06-09", 2205), ("2024-06-12", 2180), ("2024-06-15", 2147), ("2024-06-17", 2108),
    ("2024-06-20", 2121), ("2024-06-23", 2076), ("2024-06-25", 2024), ("2024-06-27", 2076), ("2024-06-30", 2102),
    ("2024-07-01", 2147), ("2024-07-03", 2225), ("2024-07-05", 2128), ("2024-07-08", 2063), ("2024-07-10", 2030),
    ("2024-07-12", 1965), ("2024-07-15", 1959), ("2024-07-18", 1959), ("2024-07-21", 1920), ("2024-07-23", 1881),
    ("2024-07-26", 1829), ("2024-07-29", 1784), ("2024-07-31", 1760), ("2024-08-02", 1803), ("2024-08-05", 1803),
    ("2024-08-07", 1751), ("2024-08-09", 1726), ("2024-08-12", 1700), ("2024-08-14", 1648), ("2024-08-15", 1583),
    ("2024-08-17", 1570), ("2024-08-19", 1557), ("2024-08-21", 1550), ("2024-08-23", 1492), ("2024-08-25", 1466),
    ("2024-08-27", 1531), ("2024-08-29", 1492), ("2024-09-01", 1427), ("2024-09-04", 1401), ("2024-09-07", 1375),
    ("2024-09-10", 1349), ("2024-09-12", 1330), ("2024-09-14", 1304), ("2024-09-15", 1336), ("2024-09-17", 1414),
    ("2024-09-19", 1492), ("2024-09-22", 1460), ("2024-09-24", 1479), ("2024-09-26", 1596), ("2024-09-28", 1700),
    ("2024-09-30", 1829), ("2024-10-08", 1635), ("2024-10-10", 1706), ("2024-10-12", 1713), ("2024-10-14", 1713),
    ("2024-10-15", 1810), ("2024-10-16", 1751), ("2024-10-17", 1687), ("2024-10-19", 1700), ("2024-10-22", 1706),
    ("2024-10-25", 1693), ("2024-10-28", 1713), ("2024-10-31", 1739), ("2024-11-03", 1719), ("2024-11-05", 1726),
    ("2024-11-08", 1726), ("2024-11-11", 1693), ("2024-11-14", 1700), ("2024-11-16", 1661), ("2024-11-20", 1654),
    ("2024-11-22", 1654), ("2024-11-25", 1661), ("2024-11-28", 1661), ("2024-12-02", 1654), ("2024-12-04", 1596),
    ("2024-12-08", 1583), ("2024-12-10", 1576), ("2024-12-12", 1609), ("2024-12-14", 1576), ("2024-12-16", 1563),
    ("2024-12-18", 1518), ("2024-12-20", 1544), ("2024-12-23", 1537), ("2024-12-25", 1570), ("2024-12-27", 1550),
    ("2024-12-29", 1537), ("2025-01-01", 1531), ("2025-01-03", 1512), ("2025-01-05", 1512), ("2025-01-07", 1492),
    ("2025-01-09", 1473), ("2025-01-11", 1479), ("2025-01-13", 1499), ("2025-01-15", 1544), ("2025-01-16", 1596),
    ("2025-01-20", 1589), ("2025-01-23", 1583), ("2025-01-25", 1583), ("2025-01-28", 1563), ("2025-02-03", 1544),
    ("2025-02-07", 1518), ("2025-02-09", 1544), ("2025-02-12", 1544), ("2025-02-14", 1518), ("2025-02-15", 1544)]
P3_JAN = [
    ("2024-01-17", 1829), ("2024-01-19", 1849), ("2024-01-20", 1894), ("2024-01-22", 1959), ("2024-01-24", 1940),
    ("2024-01-26", 1894), ("2024-01-28", 1894), ("2024-01-30", 1907), ("2024-01-31", 1842), ("2024-02-02", 1868),
    ("2024-02-05", 1855), ("2024-02-08", 1845), ("2024-02-19", 1777), ("2024-02-21", 1790), ("2024-02-24", 1771),
    ("2024-02-26", 1732), ("2024-02-29", 1745), ("2024-03-02", 1797), ("2024-03-06", 1849), ("2024-03-08", 1842),
    ("2024-03-10", 1823), ("2024-03-13", 1803), ("2024-03-14", 1764), ("2024-03-17", 1777), ("2024-03-19", 1823),
    ("2024-03-21", 1784), ("2024-03-24", 1771), ("2024-03-26", 1745), ("2024-03-28", 1687), ("2024-03-31", 1700),
    ("2024-04-02", 1693), ("2024-04-05", 1726), ("2024-04-07", 1758), ("2024-04-09", 1790), ("2024-04-11", 1816),
    ("2024-04-12", 1777), ("2024-04-14", 1797), ("2024-04-16", 1803), ("2024-04-17", 1777), ("2024-04-18", 1940),
    ("2024-04-21", 1959), ("2024-04-23", 1965), ("2024-04-24", 1991), ("2024-04-26", 2095), ("2024-04-28", 2089),
    ("2024-05-01", 2030), ("2024-05-04", 2056), ("2024-05-06", 2095), ("2024-05-09", 2050), ("2024-05-11", 2050),
    ("2024-05-13", 2069), ("2024-05-15", 2043), ("2024-05-17", 2115), ("2024-05-19", 2167), ("2024-05-20", 2225),
    ("2024-05-23", 2329), ("2024-05-24", 2251), ("2024-05-26", 2257), ("2024-05-28", 2270), ("2024-05-30", 2303),
    ("2024-05-31", 2231), ("2024-06-02", 2128), ("2024-06-04", 2102), ("2024-06-06", 2115), ("2024-06-08", 2089),
    ("2024-06-10", 2069), ("2024-06-14", 2056), ("2024-06-17", 2050), ("2024-06-18", 2043), ("2024-06-20", 2004),
    ("2024-06-22", 2024), ("2024-06-25", 1972), ("2024-06-27", 2011), ("2024-06-29", 2030), ("2024-07-01", 2050),
    ("2024-07-03", 2121), ("2024-07-05", 2037), ("2024-07-07", 2011), ("2024-07-09", 1985), ("2024-07-11", 1933),
    ("2024-07-13", 1946), ("2024-07-17", 1933), ("2024-07-19", 1894), ("2024-07-22", 1862), ("2024-07-25", 1829),
    ("2024-07-29", 1777), ("2024-07-31", 1725), ("2024-08-03", 1823), ("2024-08-06", 1803), ("2024-08-08", 1739),
    ("2024-08-10", 1726), ("2024-08-12", 1700), ("2024-08-14", 1648), ("2024-08-15", 1589), ("2024-08-17", 1589),
    ("2024-08-19", 1596), ("2024-08-21", 1648), ("2024-08-24", 1550), ("2024-08-26", 1570), ("2024-08-28", 1615),
    ("2024-08-30", 1596), ("2024-09-01", 1544), ("2024-09-04", 1453), ("2024-09-07", 1427), ("2024-09-10", 1401),
    ("2024-09-11", 1362), ("2024-09-12", 1408), ("2024-09-14", 1356), ("2024-09-17", 1362), ("2024-09-20", 1362),
    ("2024-09-22", 1336), ("2024-09-24", 1362), ("2024-09-26", 1570), ("2024-09-28", 1674), ("2024-09-30", 1700),
    ("2024-10-08", 1492), ("2024-10-10", 1518), ("2024-10-12", 1525), ("2024-10-14", 1576), ("2024-10-16", 1505),
    ("2024-10-17", 1434), ("2024-10-19", 1453), ("2024-10-22", 1518), ("2024-10-24", 1557), ("2024-10-26", 1531),
    ("2024-10-28", 1537), ("2024-10-30", 1518), ("2024-11-01", 1576), ("2024-11-03", 1544), ("2024-11-05", 1531),
    ("2024-11-08", 1544), ("2024-11-11", 1525), ("2024-11-14", 1518), ("2024-11-16", 1473), ("2024-11-20", 1479),
    ("2024-11-22", 1505), ("2024-11-24", 1486), ("2024-11-27", 1505), ("2024-11-29", 1479), ("2024-12-02", 1479),
    ("2024-12-04", 1421), ("2024-12-08", 1414), ("2024-12-10", 1427), ("2024-12-12", 1447), ("2024-12-14", 1408),
    ("2024-12-17", 1388), ("2024-12-19", 1349), ("2024-12-21", 1375), ("2024-12-25", 1401), ("2024-12-27", 1375),
    ("2024-12-29", 1362), ("2024-12-31", 1336), ("2025-01-02", 1330), ("2025-01-05", 1330), ("2025-01-09", 1330),
    ("2025-01-11", 1323), ("2025-01-14", 1323), ("2025-01-15", 1388), ("2025-01-16", 1596), ("2025-01-18", 1583),
    ("2025-01-21", 1589), ("2025-01-24", 1589), ("2025-01-28", 1570), ("2025-02-03", 1563), ("2025-02-07", 1557),
    ("2025-02-08", 1583), ("2025-02-11", 1583), ("2025-02-14", 1589), ("2025-02-15", 1583)]

# ---------------- Panel 4: 纯碱1-5月差 ----------------
TITLE4 = "纯碱1-5月差"
NAMES4 = ["1-5月差（右轴）", "期货收盘价(1月交割):纯碱SA", "期货收盘价(5月交割):纯碱SA"]
YL4 = [1300, 1500, 1700, 1900, 2100, 2300]
YR4 = [-200, -175, -150, -125, -100, -75, -50, -25, 0, 25, 50, 75, 100]
SPR15 = [
    ("2024-01-17", -22), ("2024-01-18", -70), ("2024-01-20", -77), ("2024-01-21", -99), ("2024-01-22", -129),
    ("2024-01-23", -200), ("2024-01-24", -112), ("2024-01-26", -116), ("2024-01-27", -117), ("2024-01-29", -116),
    ("2024-01-30", -84), ("2024-02-01", -94), ("2024-02-02", -106), ("2024-02-03", -102), ("2024-02-06", -97),
    ("2024-02-07", -97), ("2024-02-08", -109), ("2024-02-19", -75), ("2024-02-21", -65), ("2024-02-22", -75),
    ("2024-02-24", -64), ("2024-02-26", -52), ("2024-02-28", -42), ("2024-02-29", -20), ("2024-03-01", -20),
    ("2024-03-04", -27), ("2024-03-05", -42), ("2024-03-06", -43), ("2024-03-08", -82), ("2024-03-09", -104),
    ("2024-03-10", -89), ("2024-03-11", -82), ("2024-03-13", -62), ("2024-03-14", -49), ("2024-03-16", -52),
    ("2024-03-17", -45), ("2024-03-19", -47), ("2024-03-20", -32), ("2024-03-21", -42), ("2024-03-23", -52),
    ("2024-03-25", -59), ("2024-03-27", -69), ("2024-03-28", -89), ("2024-03-30", -133), ("2024-04-01", -131),
    ("2024-04-03", -102), ("2024-04-04", -101), ("2024-04-06", -99), ("2024-04-09", -97), ("2024-04-11", -126),
    ("2024-04-12", -101), ("2024-04-14", -109), ("2024-04-17", -113), ("2024-04-18", -117), ("2024-04-20", -109),
    ("2024-04-21", -126), ("2024-04-22", -129), ("2024-04-24", -99), ("2024-04-26", -155), ("2024-04-28", -112),
    ("2024-04-30", -99), ("2024-05-02", -101), ("2024-05-05", -102), ("2024-05-06", -102), ("2024-05-08", -81),
    ("2024-05-09", -81), ("2024-05-10", -49), ("2024-05-12", -35), ("2024-05-13", -28), ("2024-05-15", -25),
    ("2024-05-16", -18), ("2024-05-17", -5), ("2024-05-18", -52), ("2024-05-19", -8), ("2024-05-20", 0),
    ("2024-05-21", 15), ("2024-05-23", 61), ("2024-05-24", 69), ("2024-05-26", 66), ("2024-05-27", 64),
    ("2024-05-28", 69), ("2024-05-30", 62), ("2024-05-31", 56), ("2024-06-02", 39), ("2024-06-05", 29),
    ("2024-06-07", 41), ("2024-06-09", 47), ("2024-06-11", 46), ("2024-06-13", 41), ("2024-06-15", 34),
    ("2024-06-17", 25), ("2024-06-19", 17), ("2024-06-21", 5), ("2024-06-23", 4), ("2024-06-25", 2),
    ("2024-06-27", 5), ("2024-06-29", 12), ("2024-07-01", 25), ("2024-07-03", 39), ("2024-07-05", 30),
    ("2024-07-07", 19), ("2024-07-09", 5), ("2024-07-11", 2), ("2024-07-13", -1), ("2024-07-15", 0),
    ("2024-07-17", -2), ("2024-07-20", -13), ("2024-07-23", -18), ("2024-07-26", -28), ("2024-07-28", -27),
    ("2024-07-30", -33), ("2024-07-31", -28), ("2024-08-01", -8), ("2024-08-03", -7), ("2024-08-04", -12),
    ("2024-08-05", -17), ("2024-08-07", -25), ("2024-08-08", -42), ("2024-08-09", -33), ("2024-08-12", -32),
    ("2024-08-14", -28), ("2024-08-15", -32), ("2024-08-16", -30), ("2024-08-18", -32), ("2024-08-19", -35),
    ("2024-08-20", -42), ("2024-08-22", -49), ("2024-08-23", -47), ("2024-08-25", -50), ("2024-08-27", -53),
    ("2024-08-29", -59), ("2024-08-30", -64), ("2024-09-01", -67), ("2024-09-03", -65), ("2024-09-05", -44),
    ("2024-09-06", -35), ("2024-09-08", -42), ("2024-09-10", -35), ("2024-09-11", -45), ("2024-09-12", -40),
    ("2024-09-15", -44), ("2024-09-17", -38), ("2024-09-19", -38), ("2024-09-21", -38), ("2024-09-23", -37),
    ("2024-09-24", -42), ("2024-09-26", -52), ("2024-09-27", -60), ("2024-09-30", -69), ("2024-10-08", -76),
    ("2024-10-09", -82), ("2024-10-10", -106), ("2024-10-12", -89), ("2024-10-14", -87), ("2024-10-16", -109),
    ("2024-10-18", -113), ("2024-10-20", -109), ("2024-10-22", -116), ("2024-10-23", -87), ("2024-10-25", -89),
    ("2024-10-27", -96), ("2024-10-29", -97), ("2024-11-01", -99), ("2024-11-03", -99), ("2024-11-05", -101),
    ("2024-11-07", -99), ("2024-11-09", -101), ("2024-11-11", -99), ("2024-11-13", -104), ("2024-11-15", -97),
    ("2024-11-17", -96), ("2024-11-19", -92), ("2024-11-22", -81), ("2024-11-24", -81), ("2024-11-26", -76),
    ("2024-11-28", -82), ("2024-11-29", -89), ("2024-12-02", -87), ("2024-12-04", -84), ("2024-12-06", -82),
    ("2024-12-08", -79), ("2024-12-10", -76), ("2024-12-12", -82), ("2024-12-14", -69), ("2024-12-17", -60),
    ("2024-12-19", -82), ("2024-12-22", -82), ("2024-12-24", -77), ("2024-12-26", -84), ("2024-12-28", -77),
    ("2024-12-30", -79), ("2025-01-01", -104), ("2025-01-03", -102), ("2025-01-05", -86), ("2025-01-07", -82),
    ("2025-01-09", -54), ("2025-01-11", -76), ("2025-01-13", -86), ("2025-01-15", -101), ("2025-01-16", -200),
    ("2025-01-17", 99), ("2025-01-18", 89), ("2025-01-21", 98), ("2025-01-23", 93), ("2025-01-24", 84),
    ("2025-01-26", 93), ("2025-01-28", 99), ("2025-01-30", 100), ("2025-02-15", 100)]
P4_JAN = [
    ("2024-01-17", 1819), ("2024-01-19", 1843), ("2024-01-20", 1902), ("2024-01-22", 1955), ("2024-01-24", 1920),
    ("2024-01-25", 1908), ("2024-01-27", 1884), ("2024-01-29", 1902), ("2024-01-31", 1855), ("2024-02-01", 1825),
    ("2024-02-03", 1867), ("2024-02-05", 1849), ("2024-02-08", 1849), ("2024-02-19", 1778), ("2024-02-21", 1778),
    ("2024-02-24", 1760), ("2024-02-26", 1731), ("2024-02-29", 1749), ("2024-03-03", 1784), ("2024-03-06", 1849),
    ("2024-03-09", 1825), ("2024-03-12", 1802), ("2024-03-14", 1760), ("2024-03-17", 1772), ("2024-03-19", 1796),
    ("2024-03-21", 1778), ("2024-03-24", 1772), ("2024-03-26", 1719), ("2024-03-28", 1690), ("2024-03-31", 1690),
    ("2024-04-02", 1696), ("2024-04-05", 1737), ("2024-04-07", 1772), ("2024-04-10", 1825), ("2024-04-12", 1784),
    ("2024-04-14", 1802), ("2024-04-16", 1802), ("2024-04-17", 1784), ("2024-04-19", 1896), ("2024-04-21", 1949),
    ("2024-04-24", 1973), ("2024-04-25", 2032), ("2024-04-27", 2097), ("2024-04-29", 2091), ("2024-05-01", 2038),
    ("2024-05-04", 2062), ("2024-05-07", 2091), ("2024-05-09", 2050), ("2024-05-11", 2062), ("2024-05-13", 2050),
    ("2024-05-15", 2044), ("2024-05-17", 2067), ("2024-05-19", 2115), ("2024-05-21", 2221), ("2024-05-22", 2321),
    ("2024-05-24", 2256), ("2024-05-26", 2268), ("2024-05-28", 2280), ("2024-05-30", 2298), ("2024-06-01", 2233),
    ("2024-06-03", 2156), ("2024-06-04", 2121), ("2024-06-06", 2126), ("2024-06-08", 2103), ("2024-06-10", 2085),
    ("2024-06-12", 2073), ("2024-06-14", 2062), ("2024-06-16", 2056), ("2024-06-18", 2026), ("2024-06-20", 2020),
    ("2024-06-22", 2056), ("2024-06-24", 1997), ("2024-06-27", 1973), ("2024-06-29", 2038), ("2024-07-01", 2062),
    ("2024-07-03", 2103), ("2024-07-05", 2091), ("2024-07-07", 2020), ("2024-07-09", 1997), ("2024-07-11", 1920),
    ("2024-07-13", 1926), ("2024-07-15", 1920), ("2024-07-17", 1890), ("2024-07-20", 1873), ("2024-07-23", 1849),
    ("2024-07-26", 1796), ("2024-07-29", 1755), ("2024-07-31", 1722), ("2024-08-02", 1749), ("2024-08-03", 1819),
    ("2024-08-05", 1755), ("2024-08-08", 1737), ("2024-08-11", 1719), ("2024-08-13", 1678), ("2024-08-14", 1583),
    ("2024-08-16", 1583), ("2024-08-19", 1595), ("2024-08-21", 1619), ("2024-08-22", 1548), ("2024-08-24", 1566),
    ("2024-08-26", 1607), ("2024-08-28", 1589), ("2024-08-29", 1619), ("2024-08-31", 1560), ("2024-09-03", 1501),
    ("2024-09-05", 1442), ("2024-09-07", 1418), ("2024-09-09", 1394), ("2024-09-10", 1359), ("2024-09-12", 1383),
    ("2024-09-13", 1353), ("2024-09-16", 1353), ("2024-09-19", 1359), ("2024-09-21", 1335), ("2024-09-24", 1359),
    ("2024-09-25", 1442), ("2024-09-27", 1572), ("2024-09-30", 1690), ("2024-10-08", 1495), ("2024-10-09", 1477),
    ("2024-10-11", 1524), ("2024-10-13", 1524), ("2024-10-15", 1572), ("2024-10-16", 1524), ("2024-10-17", 1442),
    ("2024-10-20", 1465), ("2024-10-22", 1489), ("2024-10-23", 1548), ("2024-10-25", 1518), ("2024-10-27", 1560),
    ("2024-10-29", 1524), ("2024-10-31", 1572), ("2024-11-02", 1536), ("2024-11-04", 1536), ("2024-11-06", 1524),
    ("2024-11-09", 1536), ("2024-11-11", 1495), ("2024-11-13", 1524), ("2024-11-15", 1471), ("2024-11-17", 1477),
    ("2024-11-20", 1489), ("2024-11-21", 1465), ("2024-11-23", 1507), ("2024-11-25", 1495), ("2024-11-28", 1507),
    ("2024-11-29", 1477), ("2024-12-02", 1477), ("2024-12-04", 1430), ("2024-12-07", 1424), ("2024-12-09", 1430),
    ("2024-12-12", 1448), ("2024-12-14", 1430), ("2024-12-17", 1406), ("2024-12-18", 1359), ("2024-12-21", 1377),
    ("2024-12-24", 1394), ("2024-12-26", 1383), ("2024-12-28", 1365), ("2024-12-31", 1359), ("2025-01-01", 1335),
    ("2025-01-03", 1335), ("2025-01-06", 1335), ("2025-01-10", 1330), ("2025-01-13", 1330), ("2025-01-15", 1365),
    ("2025-01-16", 1524), ("2025-01-18", 1601), ("2025-01-21", 1589), ("2025-01-25", 1595), ("2025-01-28", 1583),
    ("2025-02-03", 1566), ("2025-02-07", 1560), ("2025-02-09", 1589), ("2025-02-12", 1589), ("2025-02-14", 1566),
    ("2025-02-15", 1589)]
P4_MAY = [
    ("2024-01-17", 1890), ("2024-01-19", 1908), ("2024-01-21", 2020), ("2024-01-22", 2115), ("2024-01-23", 2138),
    ("2024-01-24", 2103), ("2024-01-26", 2008), ("2024-01-27", 1997), ("2024-01-29", 2020), ("2024-01-31", 1955),
    ("2024-02-01", 1914), ("2024-02-03", 1967), ("2024-02-05", 1949), ("2024-02-07", 1943), ("2024-02-08", 1949),
    ("2024-02-19", 1850), ("2024-02-20", 1837), ("2024-02-22", 1843), ("2024-02-24", 1819), ("2024-02-26", 1778),
    ("2024-02-28", 1760), ("2024-03-01", 1784), ("2024-03-04", 1825), ("2024-03-06", 1914), ("2024-03-08", 1943),
    ("2024-03-10", 1908), ("2024-03-12", 1867), ("2024-03-14", 1855), ("2024-03-16", 1814), ("2024-03-18", 1819),
    ("2024-03-19", 1867), ("2024-03-21", 1825), ("2024-03-24", 1802), ("2024-03-26", 1784), ("2024-03-28", 1831),
    ("2024-03-31", 1825), ("2024-04-03", 1822), ("2024-04-05", 1855), ("2024-04-08", 1890), ("2024-04-10", 1955),
    ("2024-04-12", 1914), ("2024-04-14", 1902), ("2024-04-16", 1890), ("2024-04-18", 2032), ("2024-04-20", 2085),
    ("2024-04-22", 2109), ("2024-04-24", 2085), ("2024-04-26", 2245), ("2024-04-27", 2256), ("2024-04-28", 2215),
    ("2024-05-01", 2132), ("2024-05-03", 2162), ("2024-05-07", 2197), ("2024-05-08", 2144), ("2024-05-10", 2097),
    ("2024-05-13", 2121), ("2024-05-15", 2073), ("2024-05-16", 2067), ("2024-05-17", 2203), ("2024-05-20", 2180),
    ("2024-05-21", 2126), ("2024-05-22", 2174), ("2024-05-24", 2185), ("2024-05-26", 2209), ("2024-05-28", 2221),
    ("2024-05-30", 2185), ("2024-05-31", 2209), ("2024-06-01", 2144), ("2024-06-03", 2056), ("2024-06-05", 2091),
    ("2024-06-06", 2050), ("2024-06-09", 2032), ("2024-06-11", 2044), ("2024-06-14", 2026), ("2024-06-16", 2032),
    ("2024-06-19", 1997), ("2024-06-21", 2038), ("2024-06-23", 1985), ("2024-06-25", 1973), ("2024-06-27", 2032),
    ("2024-06-30", 2050), ("2024-07-02", 2079), ("2024-07-04", 2079), ("2024-07-06", 2014), ("2024-07-09", 1985),
    ("2024-07-10", 1926), ("2024-07-12", 1932), ("2024-07-15", 1926), ("2024-07-17", 1896), ("2024-07-20", 1879),
    ("2024-07-24", 1855), ("2024-07-27", 1808), ("2024-07-29", 1772), ("2024-07-31", 1760), ("2024-08-02", 1819),
    ("2024-08-03", 1825), ("2024-08-05", 1796), ("2024-08-07", 1766), ("2024-08-09", 1760), ("2024-08-12", 1713),
    ("2024-08-13", 1678), ("2024-08-15", 1619), ("2024-08-17", 1613), ("2024-08-19", 1625), ("2024-08-21", 1690),
    ("2024-08-22", 1595), ("2024-08-24", 1607), ("2024-08-26", 1672), ("2024-08-28", 1654), ("2024-08-30", 1660),
    ("2024-09-01", 1607), ("2024-09-03", 1560), ("2024-09-05", 1477), ("2024-09-07", 1453), ("2024-09-09", 1430),
    ("2024-09-10", 1400), ("2024-09-11", 1459), ("2024-09-13", 1400), ("2024-09-15", 1400), ("2024-09-18", 1400),
    ("2024-09-20", 1418), ("2024-09-21", 1383), ("2024-09-24", 1394), ("2024-09-25", 1477), ("2024-09-27", 1607),
    ("2024-09-30", 1766), ("2024-10-08", 1572), ("2024-10-10", 1583), ("2024-10-12", 1607), ("2024-10-14", 1619),
    ("2024-10-16", 1696), ("2024-10-17", 1566), ("2024-10-19", 1577), ("2024-10-22", 1595), ("2024-10-23", 1642),
    ("2024-10-25", 1619), ("2024-10-27", 1648), ("2024-10-29", 1631), ("2024-11-01", 1678), ("2024-11-02", 1654),
    ("2024-11-04", 1642), ("2024-11-06", 1648), ("2024-11-08", 1631), ("2024-11-11", 1607), ("2024-11-13", 1613),
    ("2024-11-15", 1572), ("2024-11-17", 1566), ("2024-11-20", 1572), ("2024-11-22", 1589), ("2024-11-24", 1577),
    ("2024-11-26", 1589), ("2024-11-28", 1589), ("2024-11-30", 1572), ("2024-12-03", 1572), ("2024-12-04", 1513),
    ("2024-12-07", 1507), ("2024-12-09", 1495), ("2024-12-12", 1524), ("2024-12-14", 1501), ("2024-12-17", 1465),
    ("2024-12-18", 1442), ("2024-12-21", 1459), ("2024-12-24", 1477), ("2024-12-26", 1459), ("2024-12-28", 1448),
    ("2024-12-31", 1442), ("2025-01-02", 1430), ("2025-01-04", 1430), ("2025-01-07", 1418), ("2025-01-09", 1389),
    ("2025-01-11", 1406), ("2025-01-13", 1424), ("2025-01-15", 1459), ("2025-01-16", 1477), ("2025-01-18", 1513),
    ("2025-01-21", 1489), ("2025-01-22", 1483), ("2025-01-25", 1507), ("2025-01-28", 1483), ("2025-02-03", 1459),
    ("2025-02-07", 1436), ("2025-02-09", 1459), ("2025-02-12", 1465), ("2025-02-14", 1436), ("2025-02-15", 1465)]

NAN = float("nan")


def ms(d):
    return pd.Timestamp(d).timestamp() * 1000.0


def split(series):
    return [pd.Timestamp(d) for d, _ in series], [v for _, v in series]


def unalign(f):
    try:
        f.frame_align = False
    except Exception:
        pass


def style_axis(ax, standoff):
    ax.axis_line_color = "black"
    ax.axis_line_width = 1.5
    ax.major_tick_line_color = "black"
    ax.major_tick_line_width = 1.5
    ax.major_tick_in = 8
    ax.major_tick_out = 0
    ax.minor_tick_line_color = None
    ax.major_label_text_font = FONT
    ax.major_label_text_font_size = "20px"
    ax.major_label_text_color = TXT
    ax.major_label_standoff = standoff


def blank(W, H, **borders):
    f = figure(width=W, height=H, x_range=Range1d(0, W), y_range=Range1d(0, H),
               output_backend="svg", toolbar_location=None,
               x_axis_location=None, y_axis_location=None,
               min_border_left=borders.get("l", 0), min_border_right=borders.get("r", 0),
               min_border_top=borders.get("t", 0), min_border_bottom=borders.get("b", 0))
    f.outline_line_color = None
    f.grid.visible = False
    f.background_fill_color = "white"
    f.border_fill_color = "white"
    unalign(f)
    return f


def panel(W, HT, HM, HL, bl, br, bt, bb, xs, xe, xticks, ylr, ylt, yrr, yrt, area, s1, s2, names,
          title, tpos, lpos, rpos, legb):
    # --- heading strip: title and units
    tf = blank(W, HT)
    tf.add_layout(Label(x=tpos[0], y=tpos[1], text=title, text_align="center", text_baseline="middle",
                        text_font=FONT, text_font_size="30px", text_font_style="bold",
                        text_color="#595959"))
    for pos in (lpos, rpos):
        tf.add_layout(Label(x=pos[0], y=pos[1], text="元/吨", text_align="center",
                            text_baseline="middle", text_font=FONT, text_font_size="24px",
                            text_color="#262626"))

    # --- main plot
    p = figure(width=W, height=HM, x_axis_type="datetime",
               x_range=Range1d(ms(xs), ms(xe)), y_range=Range1d(*ylr),
               output_backend="svg", toolbar_location=None,
               min_border_left=bl, min_border_right=br, min_border_top=bt, min_border_bottom=bb)
    unalign(p)
    p.extra_y_ranges = {"r": Range1d(*yrr)}
    p.outline_line_color = None
    p.background_fill_color = "white"
    p.border_fill_color = "white"
    p.xgrid.visible = False
    p.ygrid.ticker = FixedTicker(ticks=ylt)
    p.ygrid.grid_line_color = "#d9d9d9"
    p.ygrid.grid_line_width = 1.5

    ax_, av = split(area)
    p.varea(x=ax_, y1=0, y2=av, fill_color=TEAL, y_range_name="r")
    x1, v1 = split(s1)
    p.line(x1, v1, line_width=5, line_color=ORANGE, line_join="round")
    x2, v2 = split(s2)
    p.line(x2, v2, line_width=5, line_color=PURPLE, line_join="round")

    yax = p.yaxis[0]
    yax.ticker = FixedTicker(ticks=ylt)
    yax.formatter = NumeralTickFormatter(format="0,0")
    style_axis(yax, 28)

    rax = LinearAxis(y_range_name="r", ticker=FixedTicker(ticks=yrt))
    style_axis(rax, 22)
    p.add_layout(rax, "right")

    xax = p.xaxis[0]
    xax.ticker = FixedTicker(ticks=[ms(t) for t in xticks])
    f = "%Y-%m-%d"
    xax.formatter = DatetimeTickFormatter(milliseconds=f, seconds=f, minsec=f, minutes=f, hourmin=f,
                                          hours=f, days=f, months=f, years=f)
    xax.major_label_orientation = math.pi / 4
    style_axis(xax, 12)

    # --- legend strip (keys reuse the plot's glyph styles; their data are empty NaNs)
    lf = blank(W, HL, **legb)
    ka = lf.varea(x=[NAN], y1=[NAN], y2=[NAN], fill_color=TEAL)
    k1 = lf.line(x=[NAN], y=[NAN], line_width=7, line_color=ORANGE)
    k2 = lf.line(x=[NAN], y=[NAN], line_width=7, line_color=PURPLE)
    legend = Legend(items=[LegendItem(label=names[0], renderers=[ka]),
                           LegendItem(label=names[1], renderers=[k1]),
                           LegendItem(label=names[2], renderers=[k2])],
                    orientation="horizontal", location="center",
                    glyph_width=55, glyph_height=15, label_standoff=4, spacing=26,
                    label_text_font=FONT, label_text_font_size="22px", label_text_color=TXT,
                    border_line_color=None, background_fill_alpha=0, padding=0, margin=0)
    lf.add_layout(legend)
    return column(tf, p, lf, spacing=0, styles={"background-color": "white"})


c1 = panel(1145, 90, 380, 75, 114, 90, 16, 122, "2023-09-30 20:00", "2025-02-15", XT1,
           (1200, 3400), YL1, (-400, 600), YR1, BASIS1, FUT_SA, MARKET, NAMES1, TITLE1,
           (575, 37), (80, 29), (1102, 28), {"l": 12, "b": 9})
c2 = panel(1123, 90, 380, 75, 101, 77, 16, 122, "2023-12-31 20:00", "2025-02-14 12:00", XT2,
           (1350, 2450), YL2, (-250, 150), YR2, SPR59, P2_MAY, P2_SEP, NAMES2, TITLE2,
           (565, 37), (61, 30), (1084, 28), {"l": 15, "b": 9})
c3 = panel(1145, 66, 422, 84, 114, 91, 18, 107, "2024-01-16 20:00", "2025-02-15", XT34,
           (1300, 2450), YL3, (-110, 250), YR3, SPR91, P3_SEP, P3_JAN, NAMES3, TITLE3,
           (575, 36), (75, 27), (1093, 21), {"l": 13, "t": 12})
c4 = panel(1123, 66, 422, 84, 101, 77, 18, 107, "2024-01-16 20:00", "2025-02-15", XT34,
           (1300, 2350), YL4, (-200, 100), YR4, SPR15, P4_JAN, P4_MAY, NAMES4, TITLE4,
           (565, 36), (61, 27), (1084, 21), {"l": 15, "t": 12})

layout = column(row(c1, c2, spacing=6), row(c3, c4, spacing=6), spacing=7,
                styles={"background-color": "#8c8c8c"})

open("out.html", "w").write(file_html(layout, INLINE))
